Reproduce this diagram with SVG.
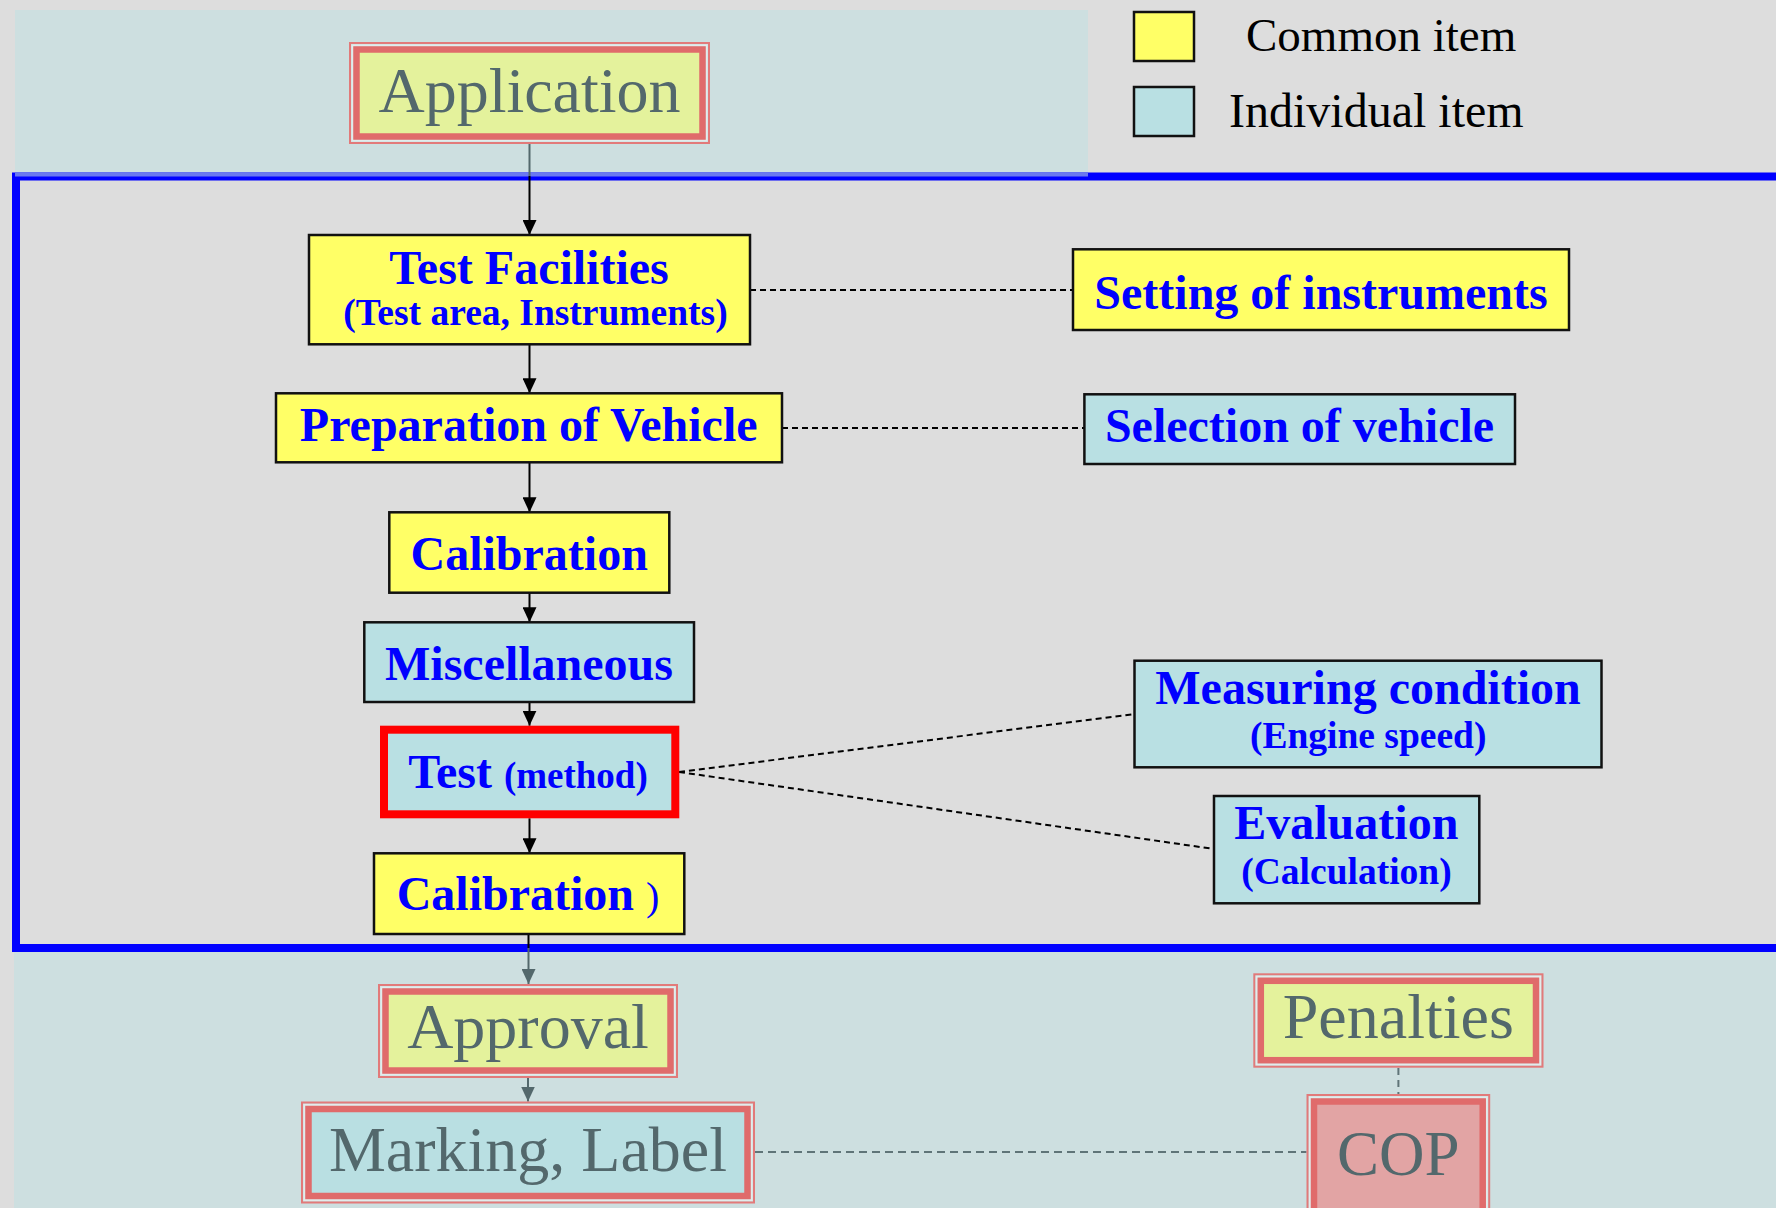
<svg xmlns="http://www.w3.org/2000/svg" width="1776" height="1208" viewBox="0 0 1776 1208">
<defs>
<style>
.bx{stroke:#111;stroke-width:2.5}
.yel{fill:#ffff66}
.cya{fill:#b9e0e3}
.bt{font-family:"Liberation Serif","Times New Roman",serif;font-weight:bold;fill:#0000ff;text-anchor:middle}
.b48{font-size:48px}
.b37{font-size:37.5px}
.ft{font-family:"Liberation Serif","Times New Roman",serif;font-size:64px;fill:#53686c;text-anchor:middle}
.lg{font-family:"Liberation Serif","Times New Roman",serif;font-size:48px;fill:#000}
.out{fill:none;stroke:#e27a7a;stroke-width:2}
.gap{fill:none;stroke:#e2ecec;stroke-width:2}
.band{stroke:#e06b6b;stroke-width:6.5}
.fy{fill:#e4f29c}
.fc{fill:#b9dfe2}
.fp{fill:#e2a4a4}
.sol{stroke:#000;stroke-width:2;fill:none}
.gsol{stroke:#53686c;stroke-width:2;fill:none}
.dsh{stroke:#000;stroke-width:2;stroke-dasharray:6 4;fill:none}
.gdsh{stroke:#5f7478;stroke-width:2;stroke-dasharray:8 5;fill:none}
</style>
<marker id="ah" viewBox="0 0 15 14" refX="15" refY="7" markerWidth="15" markerHeight="14" markerUnits="userSpaceOnUse" orient="auto">
<path d="M0,0 L15,7 L0,14 Z" fill="#000"/>
</marker>
<marker id="gah" viewBox="0 0 15 14" refX="15" refY="7" markerWidth="15" markerHeight="14" markerUnits="userSpaceOnUse" orient="auto">
<path d="M0,0 L15,7 L0,14 Z" fill="#53686c"/>
</marker>
</defs>
<rect x="0" y="0" width="1776" height="1208" fill="#dddddd"/>
<rect x="15" y="10" width="1073" height="164" fill="#cddfe0"/>
<rect x="14" y="952" width="1762" height="256" fill="#cddfe0"/>
<rect x="16" y="176.5" width="1800" height="771.5" fill="none" stroke="#0000ff" stroke-width="8"/>
<rect x="15" y="172.5" width="1073" height="4" fill="#6a78f0"/>

<g id="legend">
<rect x="1134" y="12" width="60" height="49" class="bx yel"/>
<rect x="1134" y="87" width="60" height="49" class="bx cya"/>
<text x="1246" y="51" class="lg" style="font-size:47px">Common item</text>
<text x="1229" y="127" class="lg">Individual item</text>
</g>

<g id="connectors">
<line x1="529.5" y1="144" x2="529.5" y2="176" class="gsol"/>
<line x1="529.5" y1="176" x2="529.5" y2="235" class="sol" marker-end="url(#ah)"/>
<line x1="529.5" y1="344.3" x2="529.5" y2="393.3" class="sol" marker-end="url(#ah)"/>
<line x1="529.5" y1="462.3" x2="529.5" y2="512.3" class="sol" marker-end="url(#ah)"/>
<line x1="529.5" y1="592.7" x2="529.5" y2="622.3" class="sol" marker-end="url(#ah)"/>
<line x1="529.5" y1="702" x2="529.5" y2="725.7" class="sol" marker-end="url(#ah)"/>
<line x1="529.5" y1="818.3" x2="529.5" y2="853.3" class="sol" marker-end="url(#ah)"/>
<line x1="528.5" y1="934" x2="528.5" y2="948" class="sol"/>
<line x1="528.5" y1="948" x2="528.5" y2="984" class="gsol" marker-end="url(#gah)"/>
<line x1="528" y1="1078" x2="528" y2="1101.5" class="gsol" marker-end="url(#gah)"/>
<line x1="750" y1="290" x2="1073" y2="290" class="dsh"/>
<line x1="782" y1="428" x2="1084" y2="428" class="dsh"/>
<line x1="679" y1="772" x2="1134.5" y2="714" class="dsh"/>
<line x1="679" y1="772" x2="1214" y2="849" class="dsh"/>
<line x1="755" y1="1152" x2="1306.5" y2="1152" class="gdsh"/>
<line x1="1398.4" y1="1068" x2="1398.4" y2="1094" class="gdsh" style="stroke-dasharray:7 5"/>
</g>

<g id="application">
<rect x="350" y="43" width="359" height="100" class="out"/>
<rect x="352.5" y="45.5" width="354" height="95" class="gap"/>
<rect x="356.5" y="49.5" width="346" height="87" class="band fy"/>
<text x="529.5" y="112" class="ft">Application</text>
</g>

<g id="test-facilities">
<rect x="309" y="235" width="441" height="109.3" class="bx yel"/>
<text x="529" y="283.5" class="bt b48">Test Facilities</text>
<text x="535.5" y="325" class="bt b37">(Test area, Instruments)</text>
</g>

<g id="setting-of-instruments">
<rect x="1073" y="249.3" width="496" height="80.7" class="bx yel"/>
<text x="1321" y="308.5" class="bt b48">Setting of instruments</text>
</g>

<g id="preparation-of-vehicle">
<rect x="276" y="393.3" width="506" height="69" class="bx yel"/>
<text x="528.7" y="441" class="bt b48">Preparation of Vehicle</text>
</g>

<g id="selection-of-vehicle">
<rect x="1084.4" y="394.3" width="430.6" height="69.7" class="bx cya"/>
<text x="1299.5" y="442" class="bt b48">Selection of vehicle</text>
</g>

<g id="calibration-1">
<rect x="389.3" y="512.3" width="280" height="80.4" class="bx yel"/>
<text x="529.2" y="569.5" class="bt b48">Calibration</text>
</g>

<g id="miscellaneous">
<rect x="364.3" y="622.3" width="329.7" height="79.7" class="bx cya"/>
<text x="529" y="679.5" class="bt b48">Miscellaneous</text>
</g>

<g id="test-method">
<rect x="384" y="729.7" width="291.3" height="84.6" class="cya" stroke="#ff0000" stroke-width="8"/>
<text x="408.3" y="788" class="bt b48" style="text-anchor:start">Test <tspan style="font-size:37px">(method)</tspan></text>
</g>

<g id="calibration-2">
<rect x="374" y="853.3" width="310.3" height="80.7" class="bx yel"/>
<text x="396.7" y="910" class="bt b48" style="text-anchor:start">Calibration <tspan style="font-weight:normal;font-size:40px">)</tspan></text>
</g>

<g id="measuring-condition">
<rect x="1134.5" y="660.7" width="467" height="106.6" class="bx cya"/>
<text x="1368" y="703.5" class="bt b48">Measuring condition</text>
<text x="1368.2" y="747.5" class="bt b37">(Engine speed)</text>
</g>

<g id="evaluation">
<rect x="1214" y="796" width="265.3" height="107.3" class="bx cya"/>
<text x="1346.3" y="839" class="bt b48">Evaluation</text>
<text x="1346.5" y="883.5" class="bt b37">(Calculation)</text>
</g>

<g id="approval">
<rect x="379" y="985" width="298" height="92" class="out"/>
<rect x="381.5" y="987.5" width="293" height="87" class="gap"/>
<rect x="385.5" y="991.5" width="285" height="79" class="band fy"/>
<text x="528" y="1047.5" class="ft">Approval</text>
</g>

<g id="marking-label">
<rect x="302" y="1102.5" width="452" height="100" class="out"/>
<rect x="304.5" y="1105" width="447" height="95" class="gap"/>
<rect x="308.5" y="1109" width="439" height="87" class="band fc"/>
<text x="528" y="1171" class="ft">Marking, Label</text>
</g>

<g id="penalties">
<rect x="1254.3" y="974.3" width="288.2" height="92.4" class="out"/>
<rect x="1256.8" y="976.8" width="283.2" height="87.4" class="gap"/>
<rect x="1260.8" y="980.8" width="275.2" height="79.4" class="band fy"/>
<text x="1398.3" y="1037.5" class="ft">Penalties</text>
</g>

<g id="cop">
<rect x="1307.5" y="1095" width="181.7" height="130" class="out"/>
<rect x="1310" y="1097.5" width="176.7" height="125" class="gap"/>
<rect x="1314" y="1101.5" width="168.7" height="117" class="band fp"/>
<text x="1398.3" y="1175" class="ft" style="font-size:63px">COP</text>
</g>
</svg>
